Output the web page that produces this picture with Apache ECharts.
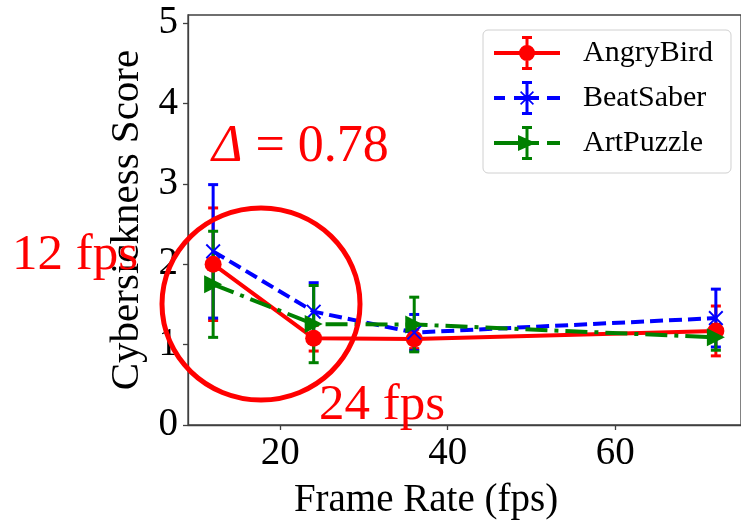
<!DOCTYPE html>
<html><head><meta charset="utf-8">
<script src="https://cdn.jsdelivr.net/npm/echarts@6/dist/echarts.min.js"></script>
<style>html,body{margin:0;padding:0;background:#fff}#c{width:741px;height:525px}</style>
</head><body><div id="c"></div>
<script>
// ---- data ----
const frameRates = [12, 24, 36, 72];
const seriesNames = ['AngryBird', 'BeatSaber', 'ArtPuzzle'];
const angryBird = [2.00, 1.08, 1.07, 1.17];
const angryBirdErr = [0.70, 0.16, 0.12, 0.31];
const beatSaber = [2.16, 1.41, 1.15, 1.33];
const beatSaberErr = [0.83, 0.36, 0.225, 0.36];
const artPuzzle = [1.75, 1.255, 1.25, 1.09];
const artPuzzleErr = [0.66, 0.48, 0.34, 0.16];
const xTicks = [20, 40, 60];
const yTicks = [0, 1, 2, 3, 4, 5];
const annotationDeltaSymbol = 'Δ';
const annotationDeltaValue = ' = 0.78';
const annotationLow = '12 fps';
const annotationHigh = '24 fps';

// ---- styling ----
const FONT = '"Liberation Serif", "DejaVu Serif", serif';
const RED = '#ff0000', BLUE = '#0000ff', GREEN = '#008000';
const AXIS = '#404040';

const errBar = 'M31.5,0 L34.5,0 L34.5,34 L31.5,34 Z M28,0 L38,0 L38,3 L28,3 Z M28,31 L38,31 L38,34 L28,34 Z ';
const legendIcons = [
  'path://M0,15 L66,15 L66,19 L0,19 Z ' + errBar + 'M25,17 A8,8 0 1,1 41,17 A8,8 0 1,1 25,17 Z',
  'path://M0,15 L11,15 L11,19 L0,19 Z M20,15 L45,15 L45,19 L20,19 Z M53,15 L66,15 L66,19 L53,19 Z ' + errBar +
    'M26,11.2 L27.2,10 L40,22.8 L38.8,24 Z M38.8,10 L40,11.2 L27.2,24 L26,22.8 Z',
  'path://M0,15 L28,15 L28,19 L0,19 Z M37,15 L45,15 L45,19 L37,19 Z M53,15 L66,15 L66,19 L53,19 Z ' + errBar +
    'M24,9 L42,17 L24,25 Z'
];

function lineSeries(name, vals, color, symbol, size, type) {
  return {
    type: 'line', name: name, z: 3,
    data: frameRates.map((f, i) => [f, vals[i]]),
    symbol: symbol, symbolSize: size, showSymbol: true,
    itemStyle: { color: color, borderWidth: 0 },
    lineStyle: { color: color, width: 4, type: type },
    emphasis: { disabled: true },
    animation: false
  };
}
function errSeries(vals, errs, color) {
  return {
    type: 'custom', name: '', z: 2, animation: false, silent: true,
    data: frameRates.map((f, i) => [f, vals[i], errs[i]]),
    encode: { x: 0, y: 1 },
    renderItem: function (params, api) {
      const x = api.value(0), y = api.value(1), e = api.value(2);
      const t = api.coord([x, y + e]), b = api.coord([x, y - e]);
      const cw = 5;
      const st = { stroke: color, lineWidth: 3 };
      return { type: 'group', children: [
        { type: 'line', shape: { x1: t[0], y1: t[1], x2: b[0], y2: b[1] }, style: st },
        { type: 'line', shape: { x1: t[0] - cw, y1: t[1], x2: t[0] + cw, y2: t[1] }, style: st },
        { type: 'line', shape: { x1: b[0] - cw, y1: b[1], x2: b[0] + cw, y2: b[1] }, style: st }
      ]};
    }
  };
}

const chart = echarts.init(document.getElementById('c'), null, { renderer: 'canvas' });
chart.setOption({
  animation: false,
  backgroundColor: '#fff',
  grid: { left: 188, top: 15, right: -2, bottom: 98, show: true, borderColor: AXIS, borderWidth: 1.3, backgroundColor: 'transparent' },
  xAxis: {
    type: 'value', min: 9, max: 75,
    name: 'Frame Rate (fps)', nameLocation: 'middle', nameGap: 56,
    nameTextStyle: { fontFamily: FONT, fontSize: 39, color: '#000', padding: [0, 77, 0, 0] },
    axisLine: { show: true, onZero: false, lineStyle: { color: AXIS, width: 1.3 } },
    axisTick: { show: true, length: 5, customValues: xTicks, lineStyle: { color: AXIS, width: 1.3 } },
    axisLabel: { customValues: xTicks, margin: 9, fontFamily: FONT, fontSize: 39, color: '#000' },
    splitLine: { show: false }
  },
  yAxis: {
    type: 'value', min: 0, max: 5.1,
    name: 'Cybersickness Score', nameLocation: 'middle', nameGap: 40,
    nameTextStyle: { fontFamily: FONT, fontSize: 41, color: '#000' },
    axisLine: { show: true, lineStyle: { color: AXIS, width: 1.3 } },
    axisTick: { show: true, length: 5, customValues: yTicks, lineStyle: { color: AXIS, width: 1.3 } },
    axisLabel: { customValues: yTicks, margin: 10, fontFamily: FONT, fontSize: 39, color: '#000' },
    splitLine: { show: false }
  },
  legend: {
    orient: 'vertical', left: 483, top: 30,
    itemWidth: 66, itemHeight: 34, itemGap: 11,
    padding: [6, 18, 13, 11],
    backgroundColor: '#fff', borderColor: '#d0d0d0', borderWidth: 1, borderRadius: 5,
    textStyle: { fontFamily: FONT, fontSize: 30, color: '#000', padding: [0, 0, 0, 18] },
    itemStyle: { borderWidth: 0 },
    selectedMode: false,
    data: seriesNames.map((n, i) => ({ name: n, icon: legendIcons[i] }))
  },
  series: [
    errSeries(angryBird, angryBirdErr, RED),
    lineSeries(seriesNames[0], angryBird, RED, 'circle', 17, 'solid'),
    errSeries(beatSaber, beatSaberErr, BLUE),
    lineSeries(seriesNames[1], beatSaber, BLUE,
      'path://M0,1.8 L1.8,0 L20,18.2 L18.2,20 Z M18.2,0 L20,1.8 L1.8,20 L0,18.2 Z', 15, [13, 6]),
    errSeries(artPuzzle, artPuzzleErr, GREEN),
    lineSeries(seriesNames[2], artPuzzle, GREEN, 'path://M0,0 L20,10 L0,20 Z', 18, [22, 7, 4, 7])
  ],
  graphic: [
    { type: 'ellipse', z: 100, shape: { cx: 261, cy: 304, rx: 99, ry: 96 },
      style: { fill: 'none', stroke: RED, lineWidth: 5 } },
    { type: 'text', z: 100, style: { x: 212, y: 147, text: '{i|' + annotationDeltaSymbol + '}' + annotationDeltaValue,
      fontFamily: FONT, fontSize: 52, fill: RED, verticalAlign: 'middle',
      rich: { i: { fontFamily: FONT, fontSize: 52, fontStyle: 'italic', fill: RED } } } },
    { type: 'text', z: 100, style: { x: 12, y: 256, text: annotationLow, fontFamily: FONT, fontSize: 51, fill: RED, verticalAlign: 'middle' } },
    { type: 'text', z: 100, style: { x: 319, y: 406, text: annotationHigh, fontFamily: FONT, fontSize: 51, fill: RED, verticalAlign: 'middle' } }
  ]
});
</script>
</body></html>
